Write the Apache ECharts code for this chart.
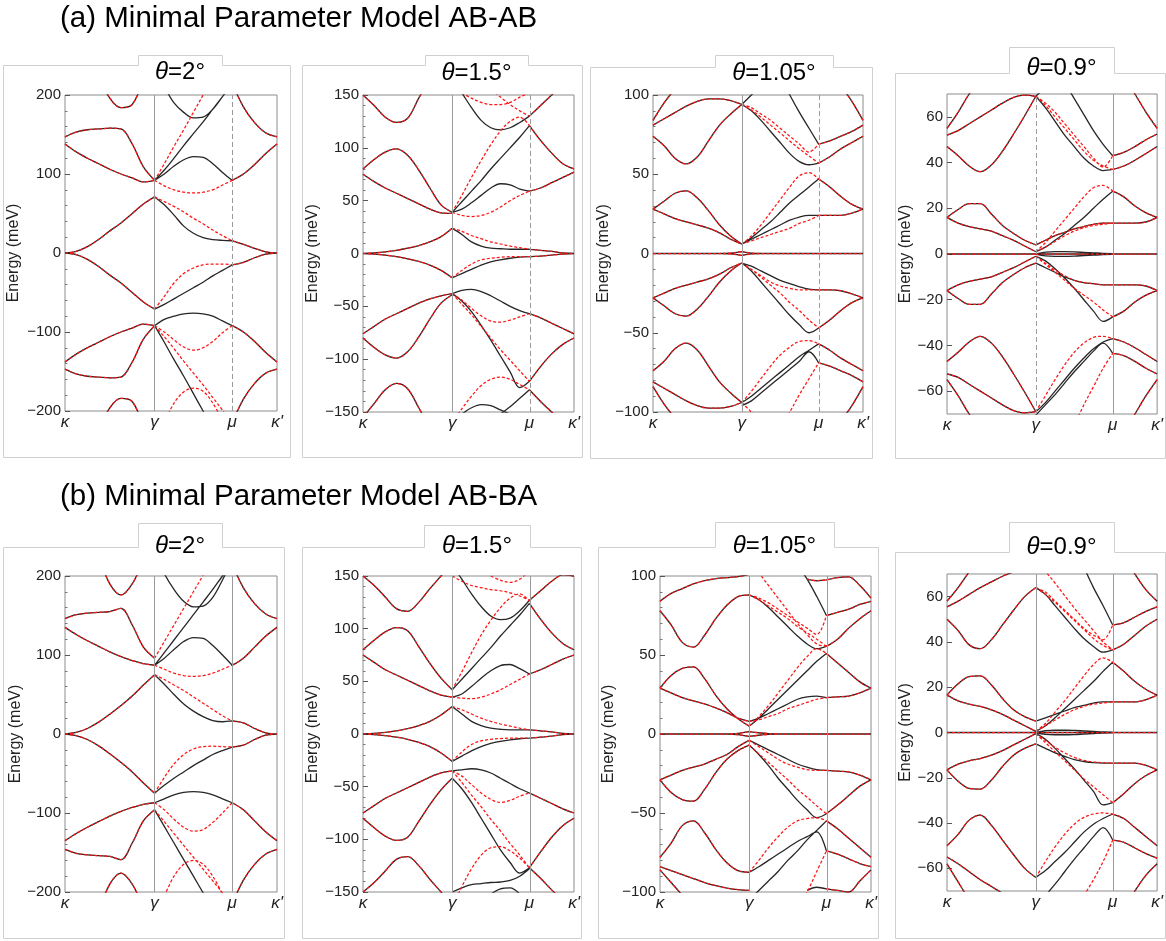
<!DOCTYPE html>
<html><head><meta charset="utf-8">
<script src="https://cdn.jsdelivr.net/npm/echarts@6/dist/echarts.min.js"></script>
<style>html,body{margin:0;padding:0;background:#fff}#c{width:1166px;height:941px}</style>
</head><body><div id="c"></div>
<script>
// ---------- labels / categories ----------
const sectionTitles = ['(a) Minimal Parameter Model AB-AB', '(b) Minimal Parameter Model AB-BA'];
const panelAngles = ['2°', '1.5°', '1.05°', '0.9°', '2°', '1.5°', '1.05°', '0.9°'];
const pathLabels = ['κ', 'γ', 'μ', "κ'"];
const pathTicks = [0, 1, 1.866, 2.366];           // path length coordinates of κ, γ, μ, κ'
const yRanges = [[-200, 200], [-150, 150], [-100, 100], [-70, 70], [-200, 200], [-150, 150], [-100, 100], [-70, 70]];
const yIntervals = [100, 50, 50, null, 100, 50, 50, null];
const yTickValues = [
  [-200, -100, 0, 100, 200], [-150, -100, -50, 0, 50, 100, 150], [-100, -50, 0, 50, 100], [-60, -40, -20, 0, 20, 40, 60],
  [-200, -100, 0, 100, 200], [-150, -100, -50, 0, 50, 100, 150], [-100, -50, 0, 50, 100], [-60, -40, -20, 0, 20, 40, 60]
];
const yName = 'Energy (meV)';

// ---------- band data: [segment, values...]  KG/GM: 9 samples, MK: 5 samples ----------
// "both" = drawn as black solid and red dashed; "black" only solid; "red" only dashed
const A1_both = [
  ['KG', 0, 2, 8, 17, 28, 38, 50, 62, 71],
  ['KG', 0, -2, -8, -17, -28, -38, -50, -62, -71],
  ['KG', 147, 153, 156, 157, 158, 157, 138, 109, 92],
  ['KG', 138, 128, 120, 113, 106, 100, 95, 90, 92],
  ['KG', null, null, null, 225, 196, 184, 188, 220, null],
  ['KG', -138, -128, -120, -113, -106, -100, -95, -90, -92],
  ['KG', -147, -153, -156, -157, -158, -157, -138, -109, -92],
  ['KG', null, null, null, -225, -196, -184, -188, -220, null],
  ['MK', 15.5, 11, 6, 1.5, 0],
  ['MK', -15, -12, -6, -1.5, 0],
  ['MK', 92, 100, 112, 126, 138],
  ['MK', 215, 185, 165, 152, 147],
  ['MK', -92, -100, -112, -126, -138],
  ['MK', -215, -185, -165, -152, -147]
];
const A1_black = [
  ['GM', 71, 61, 48, 34, 25, 19.5, 17, 16, 15.5],
  ['GM', -71, -65, -58, -51, -44, -37, -29, -22, -15],
  ['GM', 92, 100, 110, 118, 122, 121, 113, 102, 92],
  ['GM', 92, 105, 120, 136, 151, 166, 182, 198, 213],
  ['GM', 230, 210, 190, 178, 171, 172, 182, 198, 215],
  ['GM', -92, -84, -80, -77, -76, -77, -80, -86, -92],
  ['GM', -92, -113, -135, -156, -178, -200, -222, null, null]
];
const A1_red = [
  ['GM', 71, 65, 59, 52, 44, 37, 29, 22, 15.5],
  ['GM', -71, -55, -38, -26, -19, -15, -14, -14, -15],
  ['GM', 92, 113, 135, 156, 178, 200, 222, null, null],
  ['GM', 92, 85, 80, 77, 76, 77, 80, 86, 92],
  ['GM', -92, -100, -110, -119, -123, -120, -112, -101, -92],
  ['GM', -92, -106, -121, -137, -152, -167, -183, -199, -215],
  ['GM', null, -215, -190, -176, -171, -175, -190, -212, null]
];

const A2_both = [
  ['KG', 0, 0.5, 1.5, 3, 5, 7.5, 11, 16, 24],
  ['KG', 0, -0.5, -1.5, -3, -5, -7.5, -11, -16, -23],
  ['KG', 80, 89, 96, 99, 93, 79, 62, 46, 39],
  ['KG', 75, 68, 62, 57, 52, 47, 42, 38.5, 38],
  ['KG', 150, 140, 129, 124, 128, 147, 165, null, null],
  ['KG', -76, -69, -62, -57, -52, -47, -43, -40, -38],
  ['KG', -80, -89, -96, -99, -93, -79, -62, -47, -39],
  ['KG', -155, -142, -129, -123, -128, -146, -165, null, null],
  ['MK', 4, 3, 2, 0.5, 0],
  ['MK', -3, -2.5, -1.5, -0.5, 0],
  ['MK', 59, 62, 67, 72, 77],
  ['MK', 121, 107, 95, 85, 80],
  ['MK', 130, 140, 150, 160, null],
  ['MK', -57, -61, -66, -71, -76],
  ['MK', -121, -107, -95, -86, -80],
  ['MK', -129, -140, -150, -160, null]
];
const A2_black = [
  ['GM', 24, 18, 11, 7, 5, 4.5, 4, 4, 4],
  ['GM', -23, -19, -15, -11, -8, -6, -4.5, -3.5, -3],
  ['GM', 39, 42, 48, 55, 62, 66, 65, 61, 59],
  ['GM', 39, 49, 59, 69, 80, 90, 100, 110, 121],
  ['GM', 165, 152, 138, 126, 119, 117, 119, 124, 130],
  ['GM', -38, -35, -34, -36, -40, -45, -50, -54, -57],
  ['GM', -38, -45, -55, -68, -82, -97, -112, -127, -121],
  ['GM', null, -152, -146, -143, -144, -148, -152, null, null],
  ['GM', null, null, null, null, -160, -152, -145, -137, -129]
];
const A2_red = [
  ['GM', 24, 21, 17, 14, 11, 9, 7, 5.5, 4],
  ['GM', -23, -16, -10, -6, -4.5, -3.5, -3, -3, -3],
  ['GM', 39, 55, 72, 88, 103, 116, 125, 129, 121],
  ['GM', 39, 36, 35, 36, 39, 44, 50, 55, 59],
  ['GM', null, 152, 147, 143, 141, 141, 143, 148, 152],
  ['GM', null, null, null, null, 155, 148, 141, 135, 130],
  ['GM', -38, -44, -52, -59, -64, -65, -63, -60, -57],
  ['GM', -38, -48, -58, -69, -80, -91, -101, -111, -121],
  ['GM', -160, -147, -135, -125, -119, -117, -119, -124, -129]
];

const A3_both = [
  ['KG', 0, 0, 0, 0, 0, 0, 0, 0.3, 1.2],
  ['KG', 0, 0, 0, 0, 0, 0, 0, -0.3, -1.2],
  ['GM', 1.2, 0.3, 0, 0, 0, 0, 0, 0, 0],
  ['GM', -1.2, -0.3, 0, 0, 0, 0, 0, 0, 0],
  ['MK', 0, 0, 0, 0, 0],
  ['KG', 28, 33, 38, 39.5, 35, 27, 18, 11, 6],
  ['KG', 28, 25, 22, 20, 18, 16, 13, 9, 6],
  ['KG', 84, 95, 104, 112, null, null, null, null, null],
  ['KG', 81, 85, 89, 93, 96, 97.5, 97.5, 96.5, 94],
  ['KG', 74, 68, 60, 56.5, 61, 71, 81, 88, 94],
  ['KG', -28, -33, -38, -39.5, -35, -27, -18, -11, -6],
  ['KG', -28, -25, -22, -20, -18, -16, -13, -9, -6],
  ['KG', -74, -68, -60, -56.5, -61, -71, -81, -88, -94],
  ['KG', -81, -85, -89, -93, -96, -97.5, -97.5, -96.5, -94],
  ['KG', -84, -95, -104, -112, null, null, null, null, null],
  ['MK', 47, 42, 36, 31, 28],
  ['MK', 24, 24, 24, 25.5, 28],
  ['MK', 69, 71, 74, 77, 81],
  ['MK', 57, 61, 66, 70, 74],
  ['MK', null, 118, 106, 96, 84],
  ['MK', -23, -23, -23.5, -25.5, -28],
  ['MK', -47, -42, -36, -31, -28],
  ['MK', -57, -61, -66, -70, -74],
  ['MK', -69, -71, -74, -77, -81],
  ['MK', null, -118, -106, -96, -84]
];
const A3_black = [
  ['GM', 6, 10, 15, 20, 26, 32, 37, 42, 47],
  ['GM', 6, 9, 12, 15, 18, 21, 23, 24, 24],
  ['GM', 94, 90, 84, 77, 70, 63, 58, 56, 57],
  ['GM', 94, 100, 106, null, null, null, null, null, null],
  ['GM', null, null, null, null, 112, 100, 89, 79, 69],
  ['GM', -6, -8, -11, -14, -17, -19, -21, -22.5, -23],
  ['GM', -6, -11, -18, -25, -32, -39, -45, -50, -47],
  ['GM', -94, -90, -85, -80, -75, -70, -65, -61, -57],
  ['GM', -96, -93, -88, -83, -78, -73, -68, -62, -69]
];
const A3_red = [
  ['GM', 6, 11, 18, 26, 34, 42, 49, 51, 47],
  ['GM', 6, 8, 10, 12, 14, 16, 19, 21, 24],
  ['GM', 94, 90.5, 86, 81, 76, 71, 66, 61.5, 57],
  ['GM', 94, 92, 88, 84, 79, 74, 69, 64, 69],
  ['GM', -6, -10, -14, -18, -20.5, -22, -23, -23, -23],
  ['GM', -6, -10, -15, -20, -25, -31, -36, -42, -47],
  ['GM', -94, -87, -79, -71, -64, -59, -55.5, -55, -57],
  ['GM', -94, -100, -106, null, null, null, null, null, null],
  ['GM', null, null, null, null, -110, -100, -89, -79, -69]
];

const A4_both = [
  ['KG', 0, 0, 0, 0, 0, 0, 0, 0, 0],
  ['GM', 0, 0, 0, 0, 0, 0, 0, 0, 0],
  ['MK', 0, 0, 0, 0, 0],
  ['KG', 16, 19.5, 22, 22, 17.5, 12.5, 9, 6, 4],
  ['KG', 16, 13.5, 12, 11, 10, 8, 6, 3.5, 1],
  ['KG', 55, 62, 70, 76, null, null, null, null, null],
  ['KG', 52, 54, 57, 60, 63, 66, 68.5, 69.5, 69],
  ['KG', 47, 43, 38.5, 36, 39, 45, 52.5, 60.5, 69],
  ['KG', -16, -19.5, -22, -22, -17.5, -12.5, -9, -6, -4],
  ['KG', -16, -13.5, -12, -11, -10, -8, -6, -3.5, -1],
  ['KG', -47, -43, -38.5, -36, -39, -45, -52.5, -60.5, -69],
  ['KG', -52.5, -54, -57, -60, -63, -66, -68.5, -69.5, -69],
  ['KG', -55, -62, -70, -76, null, null, null, null, null],
  ['GM', 4, 6, 8, 9.5, 11, 12, 13, 13.5, 13.5],
  ['MK', 27.5, 25, 21, 18, 16],
  ['MK', 13.5, 13.5, 13.5, 14, 16],
  ['MK', 43, 44.5, 47, 50, 52.5],
  ['MK', 37, 38.5, 41, 44, 47],
  ['MK', 85, 78, 70, 62, 55],
  ['MK', -13.5, -13.5, -13.5, -14, -16],
  ['MK', -27.5, -25, -21, -18, -16],
  ['MK', -37, -38.5, -41, -44, -47],
  ['MK', -43.5, -44.5, -47, -50, -52.5],
  ['MK', -85, -78, -70, -62, -55]
];
const A4_black = [
  ['GM', 1, 3, 6, 9, 12.5, 16, 20, 24, 27.5],
  ['GM', 69, 64, 58, 52, 47, 42, 38.5, 36.5, 37],
  ['GM', null, null, null, 75, 68, 61, 54, 48, 43],
  ['GM', 69, 73, null, null, null, null, null, null, null],
  ['GM', -1, -3, -6.5, -10.5, -15, -20, -25, -29.5, -27.5],
  ['GM', -4, -6, -8, -10, -11.5, -12.5, -13, -13.5, -13.5],
  ['GM', -69, -65, -60, -55, -50, -45.5, -41.5, -38.5, -37],
  ['GM', -70.5, -66, -61.5, -56.5, -51.5, -47, -42.5, -39, -43.5],
  ['GM', 0, 0.8, 1, 1, 0.9, 0.7, 0.5, 0.3, 0.2],
  ['GM', 0, -0.8, -1, -1, -0.9, -0.7, -0.5, -0.3, -0.2]
];
const A4_red = [
  ['GM', 1, 5, 10, 15, 20, 25, 29, 30, 27.5],
  ['GM', 1, 3, 5.5, 8, 10, 11.5, 12.5, 13, 13.5],
  ['GM', 69, 65, 60, 55, 50, 45, 41, 38.5, 37],
  ['GM', 69, 66, 62, 57, 52, 47, 42, 38, 43],
  ['GM', -1, -4.5, -8, -11.5, -15, -18, -21, -24.5, -27.5],
  ['GM', -1, -4, -7, -9.5, -11.5, -12.5, -13, -13.5, -13.5],
  ['GM', -69, -62, -55, -48.5, -43, -39, -36.5, -36, -37],
  ['GM', null, null, null, null, -75, -66, -58, -50, -43.5]
];

const B1_both = [
  ['KG', 0, 2, 7, 15, 25, 36, 48, 62, 75],
  ['KG', 0, -2, -7, -15, -25, -36, -48, -62, -75],
  ['KG', 146, 151, 153, 154, 155, 159, 138, 110, 96],
  ['KG', 135, 126, 118, 111, 104, 98, 93, 89, 87],
  ['KG', null, null, null, 225, 190, 176, 190, 220, null],
  ['KG', -135, -126, -118, -111, -104, -98, -93, -89, -87],
  ['KG', -146, -151, -153, -154, -155, -159, -138, -110, -96],
  ['KG', null, null, null, -225, -190, -176, -190, -220, null],
  ['MK', 16.5, 14, 7, 1.5, 0],
  ['MK', -16.5, -14, -7, -1.5, 0],
  ['MK', 87, 96, 110, 124, 135],
  ['MK', 215, 185, 165, 152, 146],
  ['MK', -87, -96, -110, -124, -135],
  ['MK', -215, -185, -165, -152, -146]
];
const B1_black = [
  ['GM', 75, 63, 50, 38, 29, 22, 17, 15.5, 16.5],
  ['GM', -75, -65, -56, -48, -40, -33, -26, -21, -16.5],
  ['GM', 87, 96, 107, 117, 122, 121, 112, 100, 87],
  ['GM', 87, 103, 119, 135, 151, 167, 183, 200, 216],
  ['GM', 230, 203, 183, 168, 161, 162, 173, 195, 220],
  ['GM', -87, -82, -77, -74, -73, -74, -77, -82, -87],
  ['GM', -96, -117, -138, -159, -180, -201, -222, null, null]
];
const B1_red = [
  ['GM', 75, 69, 62, 55, 47, 39, 31, 23, 16.5],
  ['GM', -75, -55, -38, -26, -19, -16, -15.5, -16, -16.5],
  ['GM', 96, 117, 138, 159, 180, 201, 222, null, null],
  ['GM', 87, 82, 77, 74, 73, 74, 77, 82, 87],
  ['GM', -87, -96, -108, -118, -123, -121, -112, -100, -87],
  ['GM', -96, -111, -126, -141, -156, -171, -186, -201, -216],
  ['GM', null, -205, -180, -165, -160, -165, -180, -203, null]
];

const B2_both = [
  ['KG', 0, 0.5, 1.5, 3, 5, 8, 12, 18, 26],
  ['KG', 0, -0.5, -1.5, -3, -5, -8, -12, -18, -26],
  ['KG', 80, 89, 97, 101, 98, 83, 67, 53, 42],
  ['KG', 75, 68, 61, 56, 51, 46, 41, 37, 35],
  ['KG', 150, 141, 130, 119, 116.5, 125, 138, 150, 162],
  ['KG', -75, -68, -61, -56, -51, -46, -41, -37, -35],
  ['KG', -80, -89, -97, -101, -98, -83, -67, -53, -42],
  ['KG', -150, -141, -130, -119, -116.5, -125, -138, -150, -162],
  ['MK', 4, 3, 2, 0.5, 0],
  ['MK', -4, -3, -2, -0.5, 0],
  ['MK', 124, 109, 96, 86, 80],
  ['MK', 57, 61, 66, 71, 75],
  ['MK', 127, 136, 145, 151, 150],
  ['MK', -56, -61, -66, -71, -75],
  ['MK', -127, -112, -98, -87, -80],
  ['MK', -127, -137, -148, -158, null]
];
const B2_black = [
  ['GM', 26, 19, 12, 8, 5.5, 4.5, 4, 4, 4],
  ['GM', -26, -21, -16, -12, -9, -7, -5.5, -4.5, -4],
  ['GM', 35, 38, 45, 53, 60, 65, 66, 62, 57],
  ['GM', 42, 52, 62, 72, 82, 93, 103, 113, 124],
  ['GM', 160, 147, 133, 121, 112, 108.5, 110, 117, 127],
  ['GM', -35, -34, -33, -34, -37, -42, -47, -52, -56],
  ['GM', -42, -52, -65, -80, -95, -110, -122, -132, -127],
  ['GM', -150, -146, -143, -142, -141, -140.5, -139, -135, -128],
  ['GM', null, null, null, null, -152, -147, -146, -152, null]
];
const B2_red = [
  ['GM', 26, 23, 19, 15, 12, 9.5, 7.5, 5.5, 4],
  ['GM', -26, -17, -10, -6.5, -5, -4.3, -4, -4, -4],
  ['GM', 42, 59, 77, 94, 108, 120, 129, 133, 126],
  ['GM', 35, 34, 33.5, 35, 38, 42, 47, 52, 57],
  ['GM', 150, 145, 141, 139, 137, 136, 134, 131, 127],
  ['GM', null, null, null, null, 150, 146, 144, 147, 155],
  ['GM', -35, -40, -48, -56, -62, -65, -63, -59, -56],
  ['GM', -35, -46, -58, -69, -81, -92, -104, -115, -127],
  ['GM', -165, -145, -128, -115, -108, -107, -111, -118, -127]
];

const B3_both = [
  ['KG', 0, 0, 0, 0, 0, 0, 0, 0.4, 1.5],
  ['KG', 0, 0, 0, 0, 0, 0, 0, -0.4, -1.5],
  ['GM', 1.5, 0.8, 0.3, 0, 0, 0, 0, 0, 0],
  ['GM', -1.5, -0.8, -0.3, 0, 0, 0, 0, 0, 0],
  ['MK', 0, 0, 0, 0, 0],
  ['KG', 29, 37, 41.5, 42.5, 35, 24.5, 16, 9.7, 5],
  ['KG', 29, 26, 23, 21, 19, 16.5, 13.5, 10, 8],
  ['KG', 84, 89, 92, 95, 97, 98.4, 99, 99.6, 101],
  ['KG', 78, 69, 58, 55, 62.5, 73, 81.5, 87, 88],
  ['KG', -29, -37, -41.5, -42.5, -35, -24.5, -16, -10.5, -7],
  ['KG', -29, -26, -23, -21, -19, -16, -13, -8, -4],
  ['KG', -78, -69, -58, -55, -62.5, -73, -81.5, -86.5, -87.5],
  ['KG', -84, -86.5, -89, -91.5, -94, -96, -97.5, -98.5, -99],
  ['KG', -86, -94, -102, null, null, null, null, null, null],
  ['GM', null, null, null, null, null, null, 98, 97, 97.5],
  ['MK', 51, 45, 39, 33, 29],
  ['MK', 23, 23.5, 24, 26, 29],
  ['MK', 75, 77, 79, 82, 84],
  ['MK', 55.5, 60, 67, 73, 78],
  ['MK', 97.5, 99, 99.5, 94, 86],
  ['MK', -23, -23.5, -24, -26, -29],
  ['MK', -50.5, -45, -39, -33, -29],
  ['MK', -55, -60, -66, -72, -78],
  ['MK', -74, -76, -79, -82, -84],
  ['MK', -98, -99, -100, -93, -86]
];
const B3_black = [
  ['GM', 5, 10, 16, 22, 28, 34, 40, 46, 51],
  ['GM', 8, 10, 13, 16, 19, 22, 23.5, 24, 23],
  ['GM', 88, 85, 80, 74, 68, 62, 57, 54, 55.5],
  ['GM', null, null, null, null, null, 107, 98, 87, 75],
  ['GM', -4, -7, -10, -13, -16, -19, -21, -22.5, -23],
  ['GM', -7, -13, -20, -28, -35, -42, -48, -53, -50.5],
  ['GM', -87.5, -84, -80, -76, -72, -68, -65, -62, -74],
  ['GM', -105, -99, -93, -87, -80, -74, -67, -61, -55],
  ['GM', null, null, null, null, null, null, -99, -97, -98]
];
const B3_red = [
  ['GM', 5, 11, 18, 26, 34, 42, 49, 54, 51],
  ['GM', 8, 9, 11, 13, 16, 18, 20, 22, 23],
  ['GM', 88, 85, 81, 77, 73, 68, 64, 60, 55.5],
  ['GM', 88, 86, 83, 79, 75, 71, 67, 63, 75],
  ['GM', 110, 102, 94, 86, 78, 70, 63, 57, 55.5],
  ['GM', -4, -8, -12, -16, -19, -21, -22.5, -23, -23],
  ['GM', -7, -12.5, -18, -23.5, -29, -35, -40, -45.5, -50.5],
  ['GM', -87.5, -80, -72, -65, -59, -55, -53.5, -53, -55],
  ['GM', null, null, null, null, null, -110, -100, -87, -74]
];

const B4_both = [
  ['KG', 0, 0, 0, 0, 0, 0, 0, 0, 0],
  ['GM', 0, 0, 0, 0, 0, 0, 0, 0, 0],
  ['MK', 0, 0, 0, 0, 0],
  ['KG', 16.5, 21.5, 24.7, 25, 21, 15, 10, 7, 5],
  ['KG', 16.5, 14, 12.5, 11.5, 10, 8, 5.5, 3, 0.5],
  ['KG', 58, 64, 71, 78, null, null, null, null, null],
  ['KG', 55.5, 58, 61, 64, 66.5, 69, 71, 73, 75],
  ['KG', 50, 45, 38.7, 37, 41, 47.5, 54, 60, 64],
  ['KG', -16.5, -21.5, -24.7, -25, -21, -15, -10, -7, -5],
  ['KG', -16.5, -14, -12.5, -11.5, -10, -8, -5.5, -3, -0.5],
  ['KG', -50, -45, -38.7, -36.5, -41, -47.5, -54, -60, -64],
  ['KG', -55, -58, -61.5, -65, -68, -71, -74, null, null],
  ['KG', -58, -66, -74, null, null, null, null, null, null],
  ['MK', 31, 27, 22.5, 19, 16.5],
  ['MK', 13.5, 13.5, 13.5, 14.5, 16.5],
  ['MK', 47.5, 48.5, 51, 53.5, 55.5],
  ['MK', 36.5, 39, 43, 47, 50],
  ['MK', 85, 78, 70, 63, 58],
  ['MK', -31, -27, -22.5, -19, -16.5],
  ['MK', -13.5, -13.5, -13.5, -14.5, -16.5],
  ['MK', -36, -38, -42, -46, -50],
  ['MK', -47.5, -48.5, -51, -53.5, -55.5],
  ['MK', -85, -78, -70, -63, -58]
];
const B4_black = [
  ['GM', 0.5, 3, 6.5, 10.5, 14.5, 18.5, 22.5, 27, 31],
  ['GM', 5, 6.5, 8, 9.5, 11, 12, 13, 13.5, 13.5],
  ['GM', 64, 61, 56, 51, 46, 41.5, 38, 35.5, 36.5],
  ['GM', null, null, null, null, null, 73, 64, 56, 47.5],
  ['GM', -0.5, -3, -7, -11.5, -16, -21, -26, -32, -31],
  ['GM', -5, -7, -9, -10.5, -12, -12.8, -13.3, -13.5, -13.5],
  ['GM', -64, -61, -57, -53, -48.5, -44, -40.5, -38, -36],
  ['GM', null, -72, -67, -61.5, -56, -51, -46, -42, -47.5],
  ['GM', 0, 0.8, 1, 1, 0.9, 0.7, 0.5, 0.3, 0.2],
  ['GM', 0, -0.8, -1, -1, -0.9, -0.7, -0.5, -0.3, -0.2]
];
const B4_red = [
  ['GM', 0.5, 4, 9, 14, 19.5, 25, 30, 33, 31],
  ['GM', 0.5, 3, 5.5, 8, 10, 11.5, 12.5, 13, 13.5],
  ['GM', 64, 62, 58, 54, 50, 46, 43, 41, 47.5],
  ['GM', 64, 61, 57.5, 53.5, 49.5, 45.5, 41.5, 38.5, 36.5],
  ['GM', 80, 71.5, 66, 60.5, 55, 50, 45, 40, 36.5],
  ['GM', -0.5, -4.5, -8.5, -12.5, -16.5, -20.5, -24, -27.5, -31],
  ['GM', -0.5, -3.5, -6.5, -9, -11, -12.3, -13, -13.3, -13.5],
  ['GM', -64, -57, -50.5, -45, -40.5, -37.5, -36, -35.5, -36],
  ['GM', null, null, null, null, null, -72, -65, -57, -47.5]
];

const panelBands = [
  [A1_both, A1_black, A1_red], [A2_both, A2_black, A2_red], [A3_both, A3_black, A3_red], [A4_both, A4_black, A4_red],
  [B1_both, B1_black, B1_red], [B2_both, B2_black, B2_red], [B3_both, B3_black, B3_red], [B4_both, B4_black, B4_red]
];

// ---------- layout (pixels) ----------
const grids = [
  {l: 65, t: 95, w: 212, h: 316}, {l: 363, t: 95, w: 211, h: 317}, {l: 653, t: 95, w: 210, h: 317}, {l: 947, t: 94, w: 215, h: 320},
  {l: 65, t: 576, w: 212, h: 316}, {l: 363, t: 576, w: 211, h: 316}, {l: 660, t: 576, w: 211, h: 316}, {l: 947, t: 574, w: 215, h: 317}
];
const frames = [
  {x0: 3, x1: 290, y0: 65, y1: 457, tx0: 138, tx1: 222, ty: 55, cy: 72},
  {x0: 302, x1: 582, y0: 65, y1: 457, tx0: 425, tx1: 528, ty: 55, cy: 73},
  {x0: 590, x1: 872, y0: 67, y1: 458, tx0: 715, tx1: 833, ty: 55, cy: 73},
  {x0: 895, x1: 1165, y0: 73, y1: 458, tx0: 1009, tx1: 1114, ty: 47, cy: 68},
  {x0: 3, x1: 284, y0: 547, y1: 938, tx0: 138, tx1: 222, ty: 523, cy: 546},
  {x0: 302, x1: 581, y0: 547, y1: 938, tx0: 424, tx1: 530, ty: 525, cy: 546},
  {x0: 598, x1: 878, y0: 547, y1: 938, tx0: 715, tx1: 834, ty: 522, cy: 546},
  {x0: 895, x1: 1165, y0: 552, y1: 938, tx0: 1009, tx1: 1114, ty: 522, cy: 547}
];
const nameGaps = [43, 42, 41, 33, 41, 42, 43, 33];
const gammaDashed = [false, false, false, true, false, false, false, false];
const muDashed = [true, true, true, false, false, false, false, false];
const FONT = "'Liberation Sans', Arial, Helvetica, sans-serif";

function segXs(seg, n) {
  const a = seg === 'KG' ? 0 : seg === 'GM' ? 1 : 2;
  const x0 = pathTicks[a], x1 = pathTicks[a + 1];
  const xs = [];
  for (let k = 0; k < n; k++) xs.push(x0 + (x1 - x0) * k / (n - 1));
  return xs;
}
function toData(entries) {
  const out = [];
  entries.forEach(e => {
    const vals = e.slice(1);
    const xs = segXs(e[0], vals.length);
    vals.forEach((v, k) => out.push([xs[k], v == null ? null : v]));
    out.push([null, null]);
  });
  return out;
}

const option = {
  animation: false,
  backgroundColor: '#fff',
  grid: [], xAxis: [], yAxis: [], series: [], graphic: []
};

grids.forEach((g, i) => {
  option.grid.push({left: g.l, top: g.t, width: g.w, height: g.h, show: true, borderColor: '#8c8c8c', borderWidth: 1, backgroundColor: 'transparent'});
  option.xAxis.push({
    type: 'value', gridIndex: i, min: pathTicks[0], max: pathTicks[3],
    axisLine: {show: false}, axisTick: {show: false}, splitLine: {show: false},
    axisLabel: {
      customValues: pathTicks, showMinLabel: true, showMaxLabel: true, hideOverlap: false,
      formatter: v => { let best = 0; pathTicks.forEach((t, k) => { if (Math.abs(t - v) < Math.abs(pathTicks[best] - v)) best = k; }); return pathLabels[best]; },
      fontSize: 17, fontStyle: 'italic', fontFamily: FONT, color: '#222', margin: 3
    }
  });
  const r = yRanges[i];
  const yAx = {
    type: 'value', gridIndex: i, min: r[0], max: r[1],
    name: yName, nameLocation: 'middle', nameGap: nameGaps[i], nameRotate: 90,
    nameTextStyle: {fontSize: 16, fontFamily: FONT, color: '#222'},
    axisLine: {show: false}, splitLine: {show: false},
    axisTick: {show: true, inside: true, length: 5, lineStyle: {color: '#555'}},
    axisLabel: {showMinLabel: true, showMaxLabel: true, fontSize: 15, fontFamily: FONT, color: '#222', margin: 4,
      formatter: v => String(v).replace('-', '\u2212')}
  };
  if (yIntervals[i]) {
    yAx.interval = yIntervals[i];
    yAx.minorTick = {show: true, splitNumber: 5, length: 2.5, lineStyle: {color: '#777'}};
  } else {
    yAx.axisTick.customValues = yTickValues[i];
    yAx.axisLabel.customValues = yTickValues[i];
  }
  option.yAxis.push(yAx);
  const [both, blk, red] = panelBands[i];
  option.series.push({
    type: 'line', xAxisIndex: i, yAxisIndex: i, data: [], silent: true, z: 1,
    markLine: {silent: true, symbol: ['none', 'none'], label: {show: false}, animation: false,
      data: [
        {xAxis: pathTicks[1], lineStyle: {color: '#9a9a9a', width: 1, type: gammaDashed[i] ? [5, 3] : 'solid'}},
        {xAxis: pathTicks[2], lineStyle: {color: '#9a9a9a', width: 1, type: muDashed[i] ? [5, 3] : 'solid'}}
      ]}
  });
  option.series.push({
    type: 'line', xAxisIndex: i, yAxisIndex: i, data: toData(both.concat(blk)), smooth: 0.35,
    showSymbol: false, symbol: 'none', connectNulls: false, silent: true, z: 2, clip: true,
    lineStyle: {color: '#262626', width: 1.3}
  });
  option.series.push({
    type: 'line', xAxisIndex: i, yAxisIndex: i, data: toData(both.concat(red)), smooth: 0.35,
    showSymbol: false, symbol: 'none', connectNulls: false, silent: true, z: 3, clip: true,
    lineStyle: {color: '#ff1414', width: 1.25, type: [3, 2]}
  });

  const f = frames[i];
  option.graphic.push({
    type: 'polyline', silent: true, z: 0,
    shape: {points: [[f.x0 + .5, f.y1 + .5], [f.x0 + .5, f.y0 + .5], [f.tx0 + .5, f.y0 + .5], [f.tx0 + .5, f.ty + .5], [f.tx1 + .5, f.ty + .5], [f.tx1 + .5, f.y0 + .5], [f.x1 + .5, f.y0 + .5], [f.x1 + .5, f.y1 + .5], [f.x0 + .5, f.y1 + .5]]},
    style: {stroke: '#d0d0d0', fill: null, lineWidth: 1}
  });
  option.graphic.push({
    type: 'text', silent: true, z: 5, x: (f.tx0 + f.tx1) / 2, y: f.cy,
    style: {
      text: '{i|θ}{n|=' + panelAngles[i] + '}',
      rich: {i: {fontStyle: 'italic', fontSize: 24, fontFamily: FONT, fill: '#000'}, n: {fontSize: 24, fontFamily: FONT, fill: '#000'}},
      fontSize: 24, fontFamily: FONT, fill: '#000',
      align: 'center', verticalAlign: 'middle', textAlign: 'center', textVerticalAlign: 'middle'
    }
  });
});

sectionTitles.forEach((t, k) => {
  option.graphic.push({
    type: 'text', silent: true, x: 60, y: k === 0 ? 19 : 497,
    style: {text: t, fontSize: 29.5, fontFamily: FONT, fill: '#000', align: 'left', verticalAlign: 'middle', textAlign: 'left', textVerticalAlign: 'middle'}
  });
});

const chart = echarts.init(document.getElementById('c'), null, {renderer: 'canvas'});
chart.setOption(option);
</script></body></html>
